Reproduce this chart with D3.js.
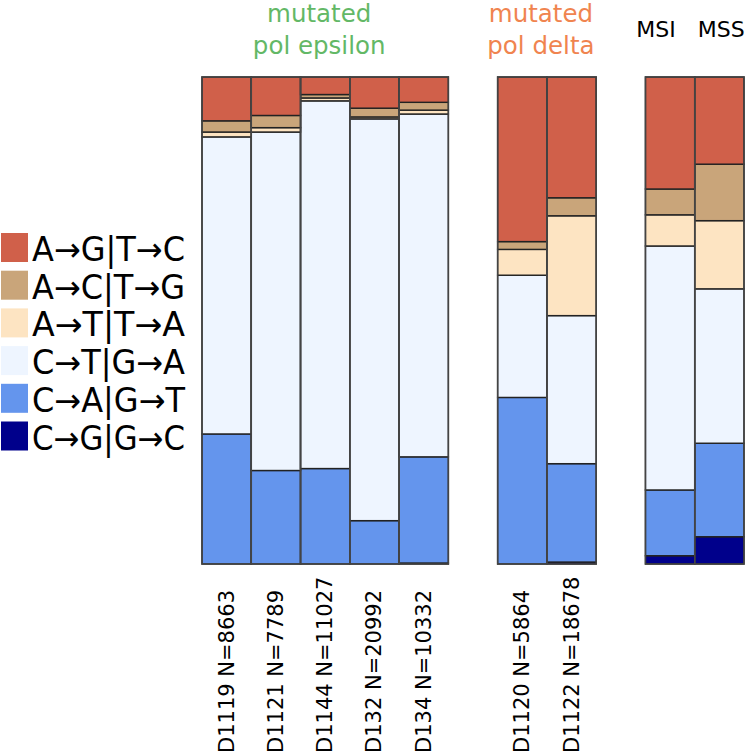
<!DOCTYPE html>
<html><head><meta charset="utf-8">
<script src="https://cdn.jsdelivr.net/npm/d3@7"></script>
<style>body{margin:0;background:#fff}svg{display:block}text{font-family:"DejaVu Sans",sans-serif}</style>
</head><body><svg id="c" width="755" height="756"></svg>
<script>
const samples = ["D1119 N=8663","D1121 N=7789","D1144 N=11027","D132 N=20992","D134 N=10332","D1120 N=5864","D1122 N=18678","MSI","MSS"];
const groups = ["eps","eps","eps","eps","eps","delta","delta","ms","ms"];
const types = ["A→G|T→C","A→C|T→G","A→T|T→A","C→T|G→A","C→A|G→T","C→G|G→C"];
const colors = ["#d0604a","#c9a57a","#fde4c2","#eef5ff","#6495ed","#00008b"];
const AG = [0.090,0.079,0.036,0.064,0.052,0.338,0.248,0.230,0.179];
const AC = [0.023,0.025,0.007,0.018,0.016,0.016,0.037,0.053,0.116];
const AT = [0.010,0.009,0.006,0.004,0.008,0.053,0.205,0.064,0.140];
const CT = [0.610,0.695,0.755,0.825,0.704,0.251,0.304,0.501,0.317];
const CA = [0.267,0.192,0.196,0.089,0.218,0.342,0.202,0.135,0.192];
const CG = [0.000,0.000,0.000,0.000,0.002,0.000,0.004,0.017,0.056];
const titles = [{text:["mutated","pol epsilon"],group:"eps",color:"#63b866"},
                {text:["mutated","pol delta"],group:"delta",color:"#f0844f"}];
const bottomLabeled = ["eps","delta"];

const svg = d3.select("#c");
const series = [AG,AC,AT,CT,CA,CG];
const rows = samples.map((s,i)=>{const o={sample:s,group:groups[i]};types.forEach((t,k)=>o[t]=series[k][i]);return o;});

// domain with spacers between groups
const domain = [];
samples.forEach((s,i)=>{ if(i>0 && groups[i]!==groups[i-1]) domain.push("gap"+i); domain.push(s); });
const x = d3.scaleBand().domain(domain).range([202,744]).padding(0);
const y = d3.scaleLinear().domain([0,1]).range([564,77]);

// stack bottom-up: C→G first
const stackKeys = types.slice().reverse();
const stack = d3.stack().keys(stackKeys).offset(d3.stackOffsetExpand)(rows);
const colorOf = d3.scaleOrdinal().domain(types).range(colors);

svg.append("g").selectAll("g").data(stack).join("g")
  .attr("fill",d=>colorOf(d.key))
  .selectAll("rect").data(d=>d).join("rect")
  .attr("x",d=>x(d.data.sample))
  .attr("width",x.bandwidth())
  .attr("y",d=>y(d[1]))
  .attr("height",d=>Math.max(0,y(d[0])-y(d[1])))
  .attr("stroke","#222").attr("stroke-width",1.4);

// outer outlines
svg.append("g").selectAll("rect").data(rows).join("rect")
  .attr("x",d=>x(d.sample)).attr("width",x.bandwidth())
  .attr("y",y(1)).attr("height",y(0)-y(1))
  .attr("fill","none").attr("stroke","#444").attr("stroke-width",1.5);

// bottom rotated labels
svg.append("g").selectAll("text").data(rows.filter(r=>bottomLabeled.includes(r.group))).join("text")
  .attr("transform",d=>`translate(${x(d.sample)+x.bandwidth()/2+7},753) rotate(-90)`)
  .attr("font-size",21).attr("fill","#000")
  .text(d=>d.sample);

// top labels for MSI / MSS
const ms = rows.filter(r=>r.group==="ms");
svg.append("g").selectAll("text").data(ms).join("text")
  .attr("x",(d,i)=> i===0 ? x(d.sample)+x.bandwidth()-19 : x(d.sample)+3)
  .attr("y",37)
  .attr("text-anchor",(d,i)=> i===0 ? "end" : "start")
  .attr("font-size",22).attr("fill","#000")
  .text(d=>d.sample);

// group titles
titles.forEach(t=>{
  const members = samples.filter((s,i)=>groups[i]===t.group);
  const cx = (x(members[0]) + x(members[members.length-1]) + x.bandwidth())/2 - 6;
  const g = svg.append("text").attr("text-anchor","middle").attr("font-size",24.5).attr("fill",t.color);
  t.text.forEach((line,i)=>g.append("tspan").attr("x",cx).attr("y",22+i*32).text(line));
});

// legend
const lg = svg.append("g").selectAll("g").data(types).join("g")
  .attr("transform",(d,i)=>`translate(0,${233+i*37.7})`);
lg.append("rect").attr("x",1).attr("width",27).attr("height",29).attr("fill",d=>colorOf(d));
lg.append("text").attr("x",32).attr("y",28).attr("font-size",33)
  .attr("textLength",153).attr("lengthAdjust","spacingAndGlyphs").attr("fill","#000")
  .text(d=>d);
</script></body></html>
